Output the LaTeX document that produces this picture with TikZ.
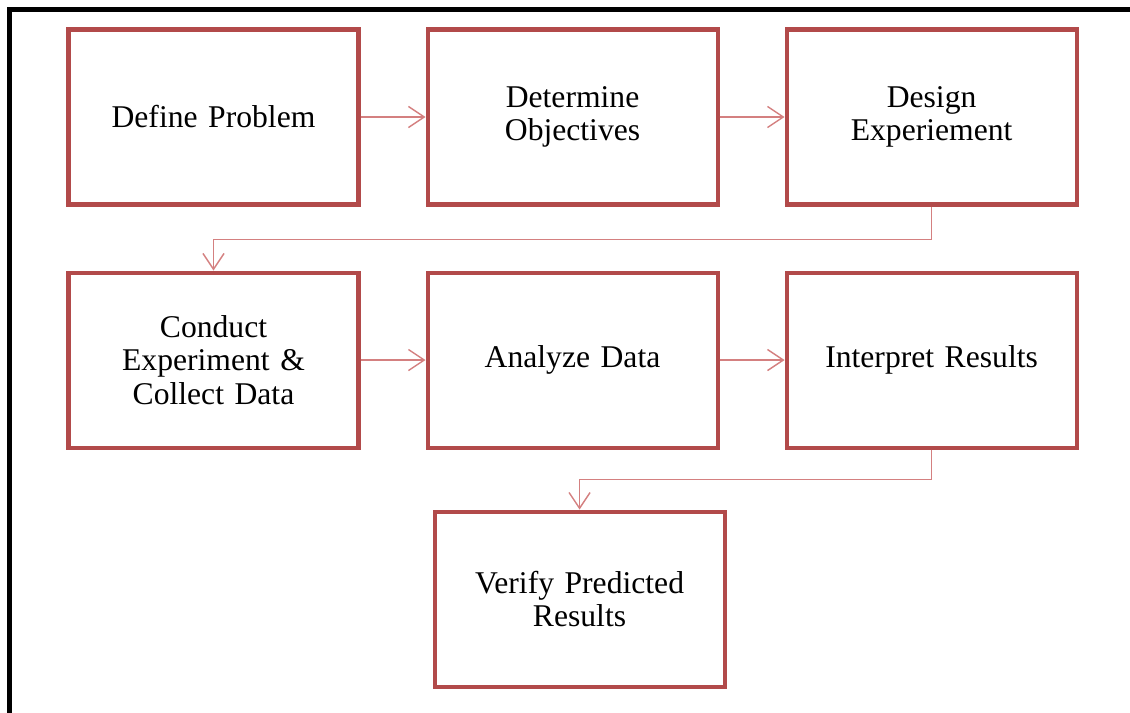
\documentclass[tikz,border=0pt]{standalone}
\usepackage{fontspec}
\setmainfont{Liberation Serif}
\definecolor{boxred}{RGB}{178,74,74}
\definecolor{linkred}{RGB}{212,128,128}
\usetikzlibrary{arrows.meta,positioning,calc}

\tikzset{
    stepbox/.style={draw=boxred, line width=2.3pt, minimum width=5.8cm, minimum height=3.5cm,
        align=center, text width=5cm, font=\fontsize{18}{19}\selectfont},
    link/.style={draw=linkred, line width=0.8pt, -{Straight Barb[length=9pt,width=12pt,line width=0.8pt]}}
}

\begin{document}
\begin{tikzpicture}[node distance=1.28cm and 1.3cm]
    \useasboundingbox (0,0) rectangle (22.6,-14.26);
    % outer frame, cut off at right and bottom
    \draw[line width=2.3pt] (0.19,-14.4) -- (0.19,-0.19) -- (22.8,-0.19);

    % first row
    \node[stepbox] (define) at (4.27,-2.34) {Define Problem};
    \node[stepbox, right=of define] (objectives) {Determine\\Objectives};
    \node[stepbox, right=of objectives] (design) {Design\\Experiement};

    % second row
    \node[stepbox, below=of define] (conduct) {Conduct\\Experiment \&\\Collect Data};
    \node[stepbox, right=of conduct] (analyze) {Analyze Data};
    \node[stepbox, right=of analyze] (interpret) {Interpret Results};

    % last step
    \node[stepbox, below=1.2cm of analyze, xshift=0.14cm] (verify) {Verify Predicted\\Results};

    % connectors
    \draw[link] (define) -- (objectives);
    \draw[link] (objectives) -- (design);
    \draw[link] (design.south) -- ++(0,-0.66) -| (conduct.north);
    \draw[link] (conduct) -- (analyze);
    \draw[link] (analyze) -- (interpret);
    \draw[link] (interpret.south) -- ++(0,-0.6) -| (verify.north);
\end{tikzpicture}
\end{document}
